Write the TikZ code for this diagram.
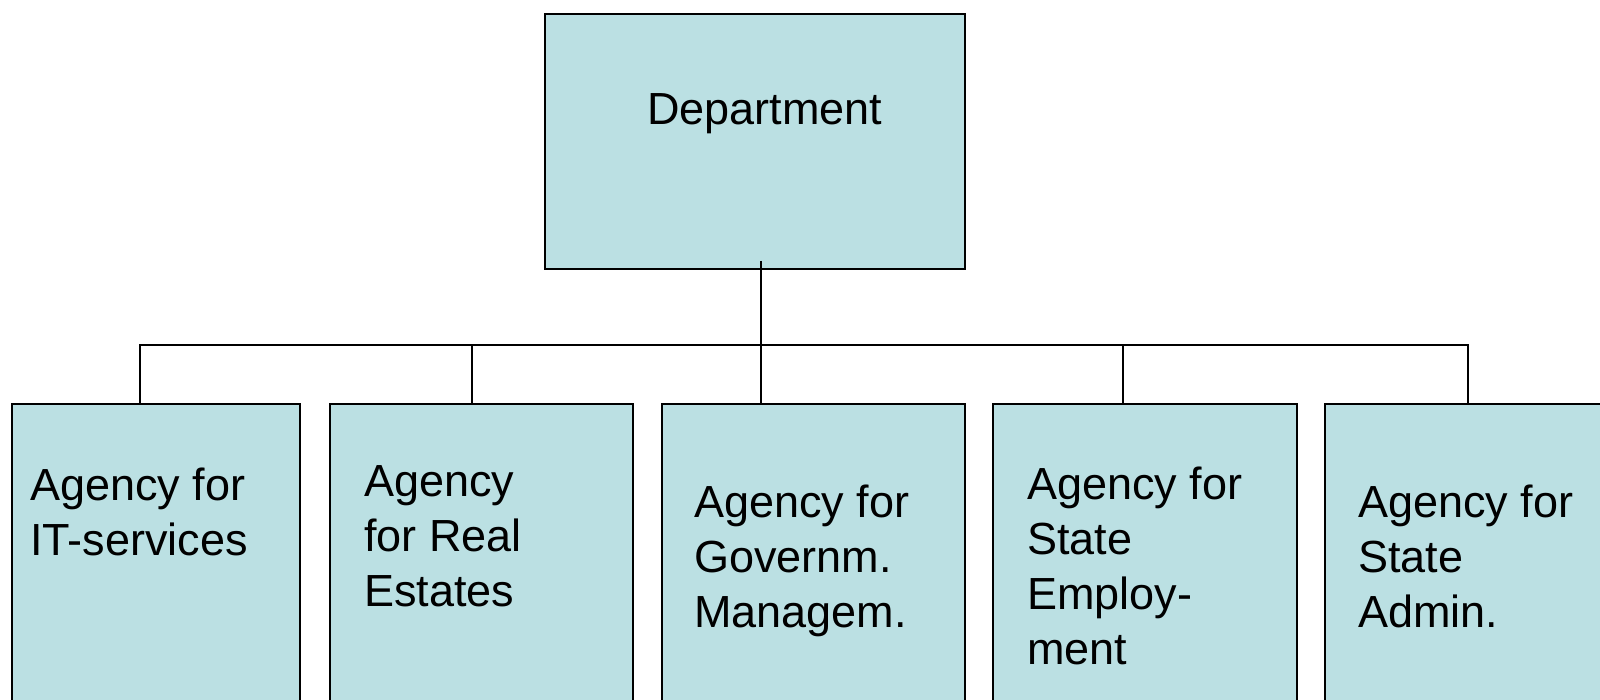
\documentclass[tikz,border=0pt]{standalone}
\usepackage{fontspec}
\setmainfont{Liberation Sans}
\usepackage{xcolor}
\usetikzlibrary{positioning}
\definecolor{boxfill}{HTML}{BBE0E3}

\begin{document}
\begin{tikzpicture}[x = 1pt, y = -1pt,
	unit/.style = {draw, line width = 2pt, fill = boxfill, anchor = north west, inner sep = 0pt, minimum height = 400pt},
	unittext/.style = {align = left, inner sep = 0pt, font = \fontsize{45}{55}\selectfont},
	link/.style = {line width = 2pt}]
	\useasboundingbox (0,0) rectangle (1600,700);
	
	% top unit
	\node[unit, minimum width = 420pt, minimum height = 255pt] (dept) at (544,13) {};
	\node[unittext, below right = 80pt and 103pt of dept.north west] (dept-txt) {Department};
	
	% agencies
	\node[unit, minimum width = 288pt] (it) at (11,403) {};
	\node[unit, minimum width = 303pt] (est) at (329,403) {};
	\node[unit, minimum width = 303pt] (gov) at (661,403) {};
	\node[unit, minimum width = 304pt] (emp) at (992,403) {};
	\node[unit, minimum width = 303pt] (adm) at (1324,403) {};
	
	\node[unittext, below right = 65pt and 19pt of it.north west] (it-txt) {Agency for\\IT-services};
	\node[unittext, below right = 62pt and 35pt of est.north west] (est-txt) {Agency\\for Real\\Estates};
	\node[unittext, below right = 82pt and 33pt of gov.north west] (gov-txt) {Agency for\\Governm.\\Managem.};
	\node[unittext, below right = 64pt and 35pt of emp.north west] (emp-txt) {Agency for\\State\\Employ-\\ment};
	\node[unittext, below right = 82pt and 34pt of adm.north west] (adm-txt) {Agency for\\State\\Admin.};
	
	% connectors
	\coordinate (b1) at (140,345);
	\coordinate (b2) at (472,345);
	\coordinate (hub) at (761,345);
	\coordinate (b4) at (1123,345);
	\coordinate (b5) at (1468,345);
	
	\draw[link] ([yshift = 9pt]dept.south -| hub) -- (hub |- gov.north);
	\draw[link] (b1 |- it.north) -- (b1) -- (b5) -- (b5 |- adm.north);
	\draw[link] (b2) -- (b2 |- est.north);
	\draw[link] (b4) -- (b4 |- emp.north);
\end{tikzpicture}
\end{document}
